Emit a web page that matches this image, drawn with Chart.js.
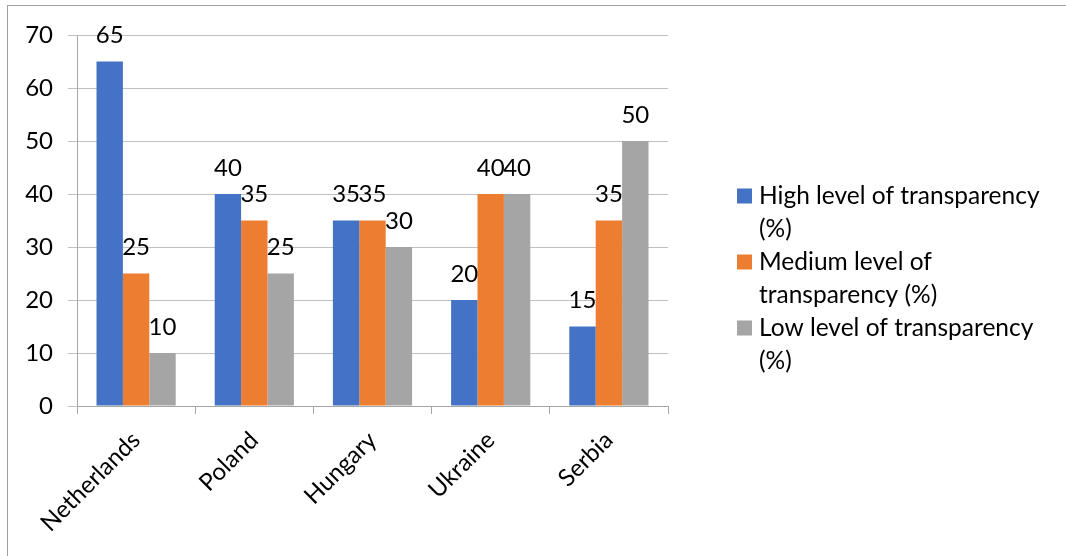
<!DOCTYPE html>
<html>
<head>
<meta charset="utf-8">
<script src="https://cdn.jsdelivr.net/npm/chart.js@4.4.1/dist/chart.umd.min.js"></script>
<style>
  html, body { margin: 0; padding: 0; background: #fff; overflow: hidden; }
  #frame { position: absolute; left: 7px; top: 5px; width: 1100px; height: 600px; border: 1px solid #a0a0a0; }
  #wrap { position: absolute; left: 0; top: 0; width: 1066px; height: 556px; }
</style>
</head>
<body>
<div id="frame"></div>
<div id="wrap"><canvas id="chart"></canvas></div>
<script>
// Values (percent of respondents per transparency level).
const countries = ['Netherlands', 'Poland', 'Hungary', 'Ukraine', 'Serbia'];
const highLevel = [65, 40, 35, 20, 15];
const mediumLevel = [25, 35, 35, 40, 35];
const lowLevel = [10, 25, 30, 40, 50];
const yTicks = [0, 10, 20, 30, 40, 50, 60, 70];

const seriesNames = [
  'High level of transparency (%)',
  'Medium level of transparency (%)',
  'Low level of transparency (%)',
];
// Legend wraps the way the original does.
const legendLines = [
  ['High level of transparency', '(%)'],
  ['Medium level of', 'transparency (%)'],
  ['Low level of transparency', '(%)'],
];

const FONT = 'Lato, "Open Sans", sans-serif';
const FONT_SIZE = 24;
const LEGEND_SIZE = 24.5;
const TEXT = '#000';

// Value labels just above each bar (Excel "outside end").
const barLabels = {
  id: 'barLabels',
  afterDatasetsDraw(chart) {
    const { ctx } = chart;
    ctx.save();
    ctx.font = `${FONT_SIZE}px ${FONT}`;
    ctx.fillStyle = TEXT;
    ctx.textAlign = 'center';
    ctx.textBaseline = 'middle';
    chart.data.datasets.forEach((ds, i) => {
      chart.getDatasetMeta(i).data.forEach((bar, j) => {
        ctx.fillText(String(ds.data[j]), bar.x, bar.y - 26);
      });
    });
    ctx.restore();
  },
};

// Right-hand legend with wrapped lines.
const sideLegend = {
  id: 'sideLegend',
  afterDraw(chart) {
    const { ctx } = chart;
    const x0 = 737;
    const lineH = 33;
    let y = 196;
    ctx.save();
    ctx.font = `${LEGEND_SIZE}px ${FONT}`;
    ctx.textBaseline = 'middle';
    ctx.textAlign = 'left';
    chart.data.datasets.forEach((ds, i) => {
      ctx.fillStyle = ds.backgroundColor;
      ctx.fillRect(x0, y - 7.5, 15, 15);
      ctx.fillStyle = TEXT;
      legendLines[i].forEach((line, k) => {
        ctx.fillText(line, x0 + 22, y + k * lineH);
      });
      y += legendLines[i].length * lineH;
    });
    ctx.restore();
  },
};

new Chart(document.getElementById('chart'), {
  type: 'bar',
  data: {
    labels: countries,
    datasets: [
      { label: seriesNames[0], data: highLevel, backgroundColor: '#4472C4' },
      { label: seriesNames[1], data: mediumLevel, backgroundColor: '#ED7D31' },
      { label: seriesNames[2], data: lowLevel, backgroundColor: '#A5A5A5' },
    ],
  },
  options: {
    responsive: true,
    maintainAspectRatio: false,
    animation: false,
    categoryPercentage: 0.67,
    barPercentage: 1.0,
    layout: { padding: { top: 35, right: 398, left: 0, bottom: 0 } },
    plugins: {
      legend: { display: false },
      tooltip: { enabled: false },
    },
    scales: {
      x: {
        grid: { offset: true, drawOnChartArea: false, drawTicks: true, tickLength: 8, color: '#a6a6a6' },
        border: { display: true, color: '#a6a6a6', width: 1 },
        ticks: {
          color: TEXT,
          font: { family: FONT, size: FONT_SIZE },
          minRotation: 45,
          maxRotation: 45,
          padding: 12,
        },
        afterFit: (scale) => { scale.height = 556 - 406; },
      },
      y: {
        min: 0,
        max: 70,
        afterBuildTicks: (scale) => { scale.ticks = yTicks.map((v) => ({ value: v })); },
        grid: { color: '#c0c0c0', tickLength: 9, drawTicks: true },
        border: { display: true, color: '#a6a6a6', width: 1 },
        ticks: {
          color: TEXT,
          font: { family: FONT, size: FONT_SIZE },
          padding: 15,
        },
        afterFit: (scale) => { scale.width = 77; },
      },
    },
  },
  plugins: [barLabels, sideLegend],
});
</script>
</body>
</html>
